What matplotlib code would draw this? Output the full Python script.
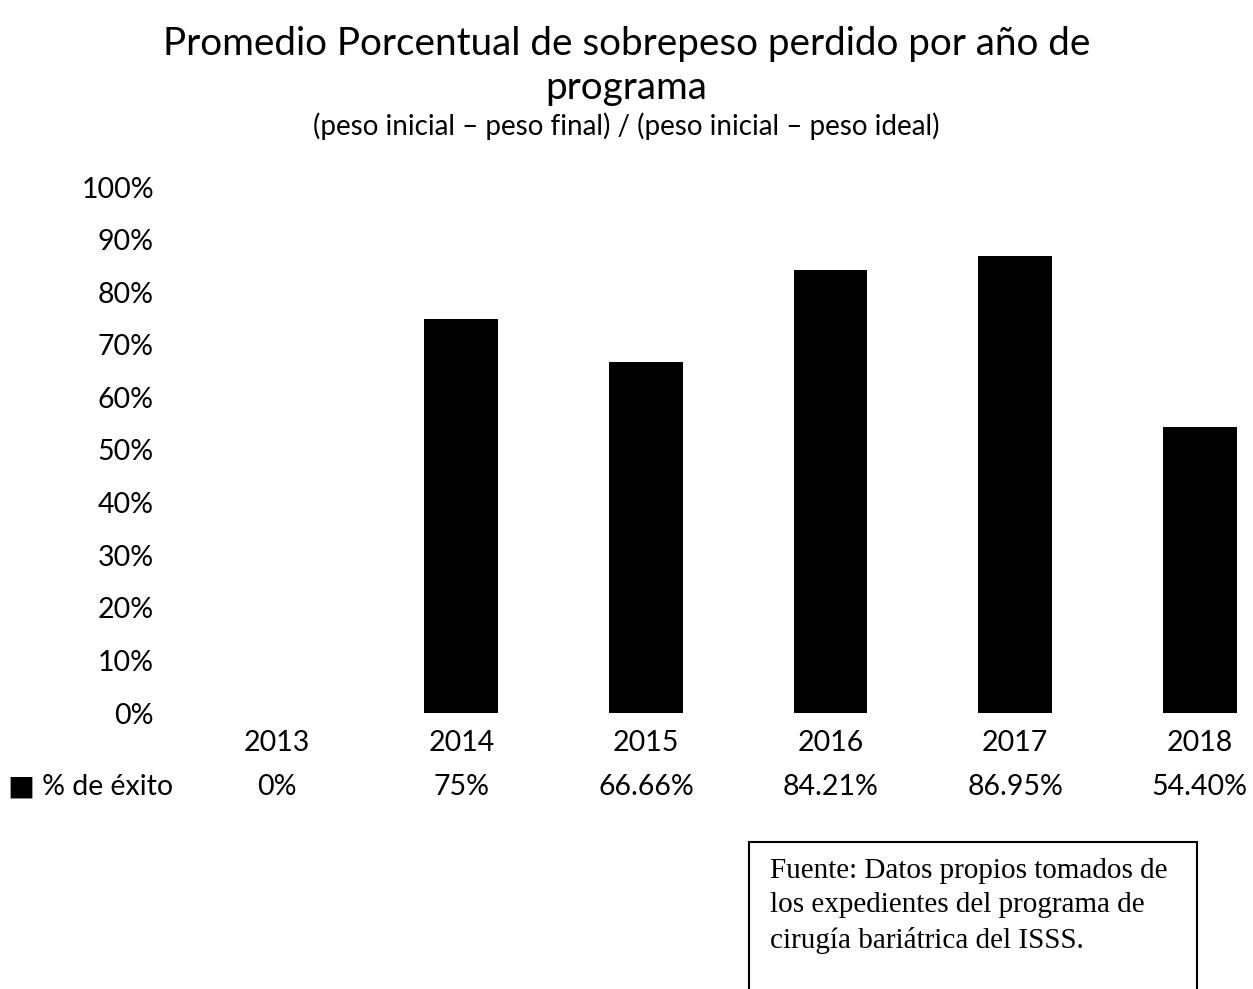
import matplotlib.pyplot as plt
from matplotlib.patches import Rectangle

# Yearly results of the program
years = ["2013", "2014", "2015", "2016", "2017", "2018"]
success = [0, 75, 66.66, 84.21, 86.95, 54.40]
success_labels = ["0%", "75%", "66.66%", "84.21%", "86.95%", "54.40%"]
y_ticks = list(range(0, 101, 10))

plt.rcParams['font.family'] = ['Lato', 'DejaVu Sans']

W, H = 1253, 989
fig = plt.figure(figsize=(W / 100, H / 100), dpi=100)

# Axes placed in pixel units; the right edge runs past the figure
left, right, top, bottom = 184.5, 1292, 187, 713
ax = fig.add_axes([left / W, 1 - bottom / H, (right - left) / W, (bottom - top) / H])

x = range(len(years))
ax.bar(x, success, width=0.4, color="black")
ax.set_xlim(-0.5, len(years) - 0.5)
ax.set_ylim(0, 100)
ax.set_yticks(y_ticks)
ax.set_yticklabels([f"{t}%" for t in y_ticks], fontsize=20.5)
ax.set_xticks(list(x))
ax.set_xticklabels(years, fontsize=20.5)
ax.tick_params(length=0, pad=12)
ax.tick_params(axis="y", pad=22)
for s in ax.spines.values():
    s.set_visible(False)

# Data table row under the category labels
for i, lab in enumerate(success_labels):
    ax.text(i, -0.14, lab, transform=ax.get_xaxis_transform(), ha="center",
            va="center", fontsize=20.5)
fig.text(8 / W, 1 - 787 / H, "■ % de éxito", ha="left", va="center", fontsize=20.5,
         family=['Lato', 'DejaVu Sans'])

# Titles
fig.text(0.5, 1 - 44 / H, "Promedio Porcentual de sobrepeso perdido por año de",
         ha="center", va="center", fontsize=27.8)
fig.text(0.5, 1 - 88 / H, "programa", ha="center", va="center", fontsize=27.8)
fig.text(0.5, 1 - 126 / H, "(peso inicial – peso final) / (peso inicial – peso ideal)",
         ha="center", va="center", fontsize=20)

# Source note box
fig.patches.append(Rectangle((749 / W, -0.05), (1197 - 749) / W, 0.05 + (989 - 842) / H,
                             transform=fig.transFigure, fill=False, edgecolor="black",
                             linewidth=1.5))
fig.text(770 / W, 1 - 858 / H,
         "Fuente: Datos propios tomados de\nlos expedientes del programa de\ncirugía bariátrica del ISSS.",
         ha="left", va="top", fontsize=21, family="Liberation Serif", linespacing=1.42)

fig.savefig("out.png", dpi=100)
